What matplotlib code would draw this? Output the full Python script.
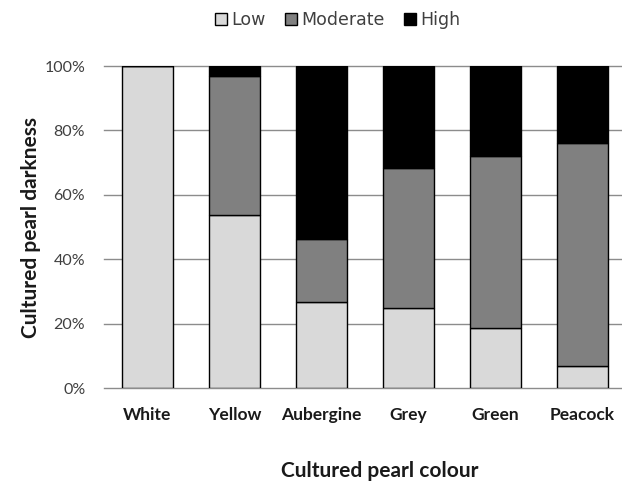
import matplotlib
matplotlib.use("Agg")
import matplotlib.pyplot as plt
import numpy as np

categories = ["White", "Yellow", "Aubergine", "Grey", "Green", "Peacock"]
low = [100.0, 53.7, 26.7, 24.7, 18.5, 6.8]
moderate = [0.0, 43.3, 19.7, 43.7, 53.5, 69.3]
high = [0.0, 3.0, 53.6, 31.6, 28.0, 23.9]
yticks = [0, 20, 40, 60, 80, 100]
ytick_labels = ["0%", "20%", "40%", "60%", "80%", "100%"]
series_names = ["Low", "Moderate", "High"]
colors = ["#d9d9d9", "#808080", "#000000"]

fig = plt.figure(figsize=(6.22, 4.87), dpi=100)
ax = fig.add_axes([104/622, 1-388/487, 522/622, 322/487])

x = np.arange(len(categories))
bottom = np.zeros(len(categories))
handles = []
for vals, name, c in zip([low, moderate, high], series_names, colors):
    v = np.array(vals)
    b = ax.bar(x, v, bottom=bottom, width=0.59, color=c, edgecolor="black",
               linewidth=1.0, label=name, zorder=3)
    handles.append(b)
    bottom = bottom + v

ax.set_xlim(-0.5, len(categories) - 0.5)
ax.set_ylim(0, 100)
ax.set_yticks(yticks)
ax.set_yticklabels(ytick_labels)
ax.yaxis.grid(True, color="#8c8c8c", linewidth=1.0, zorder=0)
for gl in ax.get_ygridlines():
    gl.set_clip_on(False)
ax.set_axisbelow(True)
for s in ax.spines.values():
    s.set_visible(False)

ax.set_xticks(x)
ax.set_xticklabels(categories, family="Lato", fontweight="bold", fontsize=12.5, color="#1a1a1a")
ax.tick_params(axis="x", length=0, pad=14)
ax.tick_params(axis="y", length=0, pad=13.5)
for t in ax.get_yticklabels():
    t.set_family("Lato")
    t.set_fontsize(11.5)
    t.set_color("#404040")

ax.set_xlabel("Cultured pearl colour", family="Lato", fontweight="bold", fontsize=15, color="#1a1a1a")
ax.set_ylabel("Cultured pearl darkness", family="Lato", fontweight="bold", fontsize=15, color="#1a1a1a")
ax.xaxis.set_label_coords(0.528, -0.227)
ax.yaxis.set_label_coords(-0.121, 0.5)

leg = fig.legend(handles=handles, labels=series_names, loc="center", ncol=3,
                 bbox_to_anchor=(338/622, 1-20/487), frameon=False,
                 prop={"family": "DejaVu Sans", "size": 12.5},
                 handlelength=0.7, handleheight=0.7, handletextpad=0.25,
                 columnspacing=1.1, borderpad=0)
for t in leg.get_texts():
    t.set_color("#404040")

fig.savefig("out.png", dpi=100)
